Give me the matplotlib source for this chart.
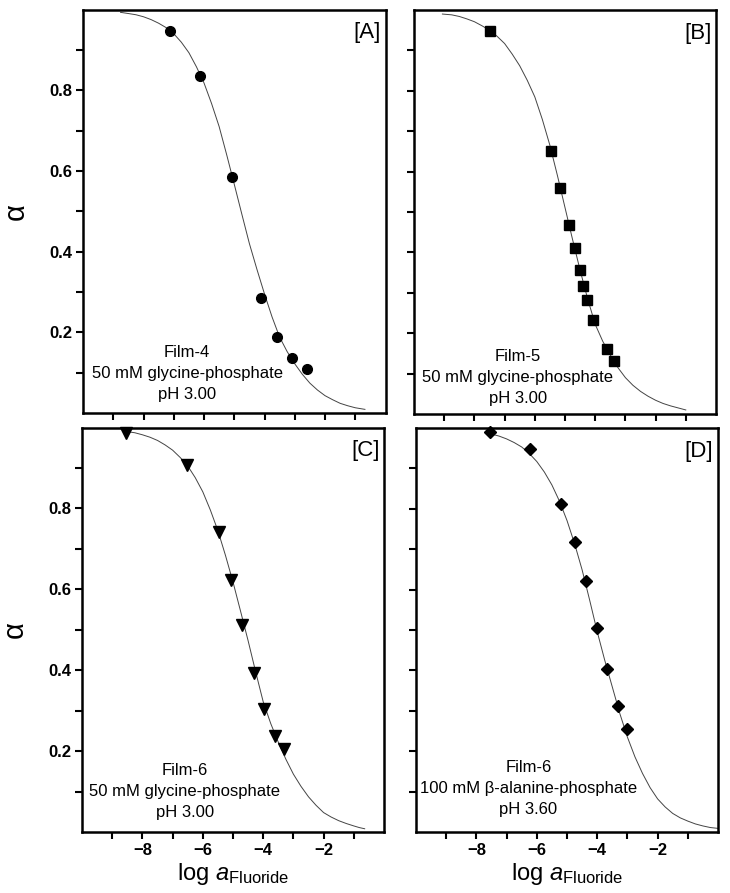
import numpy as np
import matplotlib
matplotlib.use('Agg')
import matplotlib.pyplot as plt
from matplotlib.ticker import MultipleLocator

plt.rcParams['font.family'] = ['Liberation Sans', 'DejaVu Sans']
plt.rcParams['mathtext.fontset'] = 'custom'
plt.rcParams['mathtext.rm'] = 'Liberation Sans'
plt.rcParams['mathtext.it'] = 'Liberation Sans:italic'

# measured points, log a_Fluoride vs alpha
A_x = [-7.14, -6.13, -5.09, -4.10, -3.58, -3.10, -2.59]
A_y = [0.946, 0.834, 0.586, 0.286, 0.188, 0.136, 0.108]

B_x = [-7.48, -5.47, -5.16, -4.86, -4.67, -4.50, -4.39, -4.26, -4.06, -3.60, -3.39]
B_y = [0.948, 0.651, 0.560, 0.468, 0.411, 0.356, 0.318, 0.282, 0.233, 0.160, 0.131]

C_x = [-8.53, -6.53, -5.48, -5.06, -4.69, -4.29, -3.96, -3.60, -3.30]
C_y = [0.986, 0.907, 0.741, 0.622, 0.511, 0.393, 0.304, 0.238, 0.206]

D_x = [-7.56, -6.24, -5.21, -4.72, -4.37, -4.00, -3.68, -3.32, -3.02]
D_y = [0.990, 0.947, 0.812, 0.717, 0.622, 0.505, 0.403, 0.311, 0.254]

# fitted curves
A_fit_x = [-8.76, -8.5, -8.25, -8, -7.75, -7.5, -7.25, -7, -6.75, -6.5, -6.25, -6,
           -5.75, -5.5, -5.25, -5, -4.75, -4.5, -4.25, -4, -3.75, -3.5, -3.25, -3,
           -2.75, -2.5, -2.25, -2, -1.75, -1.5, -1.25, -1, -0.84, -0.68]
A_fit_y = [0.993, 0.990, 0.987, 0.982, 0.975, 0.966, 0.955, 0.940, 0.919, 0.893, 0.858, 0.818,
           0.767, 0.710, 0.640, 0.567, 0.493, 0.420, 0.356, 0.295, 0.238, 0.188, 0.152, 0.122,
           0.096, 0.074, 0.057, 0.043, 0.033, 0.024, 0.018, 0.013, 0.011, 0.009]

B_fit_x = [-9.06, -8.75, -8.5, -8.25, -8, -7.75, -7.5, -7.25, -7, -6.75, -6.5, -6.25, -6,
           -5.75, -5.5, -5.25, -5, -4.75, -4.5, -4.25, -4, -3.75, -3.5, -3.25, -3,
           -2.75, -2.5, -2.25, -2, -1.75, -1.5, -1.25, -1.0]
B_fit_y = [0.990, 0.988, 0.984, 0.978, 0.971, 0.961, 0.950, 0.935, 0.917, 0.891, 0.862, 0.826, 0.785,
           0.729, 0.665, 0.590, 0.511, 0.432, 0.356, 0.285, 0.222, 0.180, 0.146, 0.115, 0.090,
           0.071, 0.056, 0.044, 0.034, 0.026, 0.020, 0.015, 0.010]

C_fit_x = [-8.53, -8.25, -8, -7.75, -7.5, -7.25, -7, -6.75, -6.5, -6.25, -6,
           -5.75, -5.5, -5.25, -5, -4.75, -4.5, -4.25, -4, -3.75, -3.5, -3.25, -3,
           -2.75, -2.5, -2.25, -2, -1.75, -1.5, -1.25, -1, -0.82, -0.64]
C_fit_y = [0.990, 0.987, 0.982, 0.976, 0.968, 0.957, 0.944, 0.926, 0.905, 0.876, 0.841,
           0.796, 0.745, 0.684, 0.618, 0.546, 0.473, 0.396, 0.322, 0.268, 0.222, 0.180, 0.143,
           0.113, 0.087, 0.066, 0.048, 0.037, 0.028, 0.021, 0.015, 0.011, 0.008]

D_fit_x = [-7.6, -7.5, -7.25, -7, -6.75, -6.5, -6.25, -6, -5.75, -5.5, -5.25, -5,
           -4.75, -4.5, -4.25, -4, -3.75, -3.5, -3.25, -3, -2.75, -2.5, -2.25, -2,
           -1.75, -1.5, -1.25, -1, -0.75, -0.5, -0.25, 0]
D_fit_y = [0.987, 0.985, 0.980, 0.973, 0.964, 0.953, 0.937, 0.917, 0.891, 0.859, 0.819, 0.771,
           0.714, 0.649, 0.574, 0.496, 0.425, 0.359, 0.293, 0.235, 0.186, 0.145, 0.110, 0.082,
           0.062, 0.046, 0.035, 0.027, 0.020, 0.015, 0.011, 0.009]

panels = ['[A]', '[B]', '[C]', '[D]']
notes = ['Film-4\n50 mM glycine-phosphate\npH 3.00',
         'Film-5\n50 mM glycine-phosphate\npH 3.00',
         'Film-6\n50 mM glycine-phosphate\npH 3.00',
         'Film-6\n100 mM \u03b2-alanine-phosphate\npH 3.60']
note_pos = [(0.344, 0.099), (0.343, 0.090), (0.340, 0.101), (0.372, 0.108)]

W, H = 730, 893
boxes = [(83, 9.5, 385.5, 413), (414, 10, 716, 414),
         (82, 427.5, 384, 832), (416, 428, 718, 832)]

fig = plt.figure(figsize=(W / 100, H / 100), dpi=100)

data = [(A_x, A_y, A_fit_x, A_fit_y, 'o', 7),
        (B_x, B_y, B_fit_x, B_fit_y, 's', 6.5),
        (C_x, C_y, C_fit_x, C_fit_y, 'v', 8.5),
        (D_x, D_y, D_fit_x, D_fit_y, 'D', 6.3)]

for i, (px, py, fx, fy, mk, ms) in enumerate(data):
    x0, y0, x1, y1 = boxes[i]
    ax = fig.add_axes([x0 / W, 1 - y1 / H, (x1 - x0) / W, (y1 - y0) / H])
    ax.plot(fx, fy, color='#444444', lw=0.7)
    ax.plot(px, py, linestyle='none', marker=mk, ms=ms, color='black', clip_on=False)

    ax.set_xlim(-10, 0)
    ax.set_ylim(0, 1)
    ax.set_xticks([-8, -6, -4, -2])
    ax.set_xticks([-9, -7, -5, -3, -1], minor=True)
    ax.set_yticks([0.2, 0.4, 0.6, 0.8])
    ax.set_yticks([0.1, 0.3, 0.5, 0.7, 0.9], minor=True)
    ax.tick_params(which='both', direction='out', length=5, width=1.5)
    ax.tick_params(which='major', labelsize=12, pad=3)
    for sp in ax.spines.values():
        sp.set_linewidth(1.8)
    for lab in ax.get_xticklabels() + ax.get_yticklabels():
        lab.set_fontweight('bold')

    if i % 2 == 1:
        ax.set_yticklabels([])
    else:
        ax.set_ylabel('\u03b1', fontsize=21, labelpad=14)
    if i < 2:
        ax.set_xticklabels([])
    else:
        ax.set_xlabel(r'log $a_{\mathregular{Fluoride}}$', fontsize=17, labelpad=2)

    ax.text(0.985, 0.968, panels[i], transform=ax.transAxes, ha='right', va='top', fontsize=16)
    ax.text(note_pos[i][0], note_pos[i][1], notes[i], transform=ax.transAxes,
            ha='center', va='center', fontsize=12, linespacing=1.5)

plt.savefig('out.png', dpi=100)
